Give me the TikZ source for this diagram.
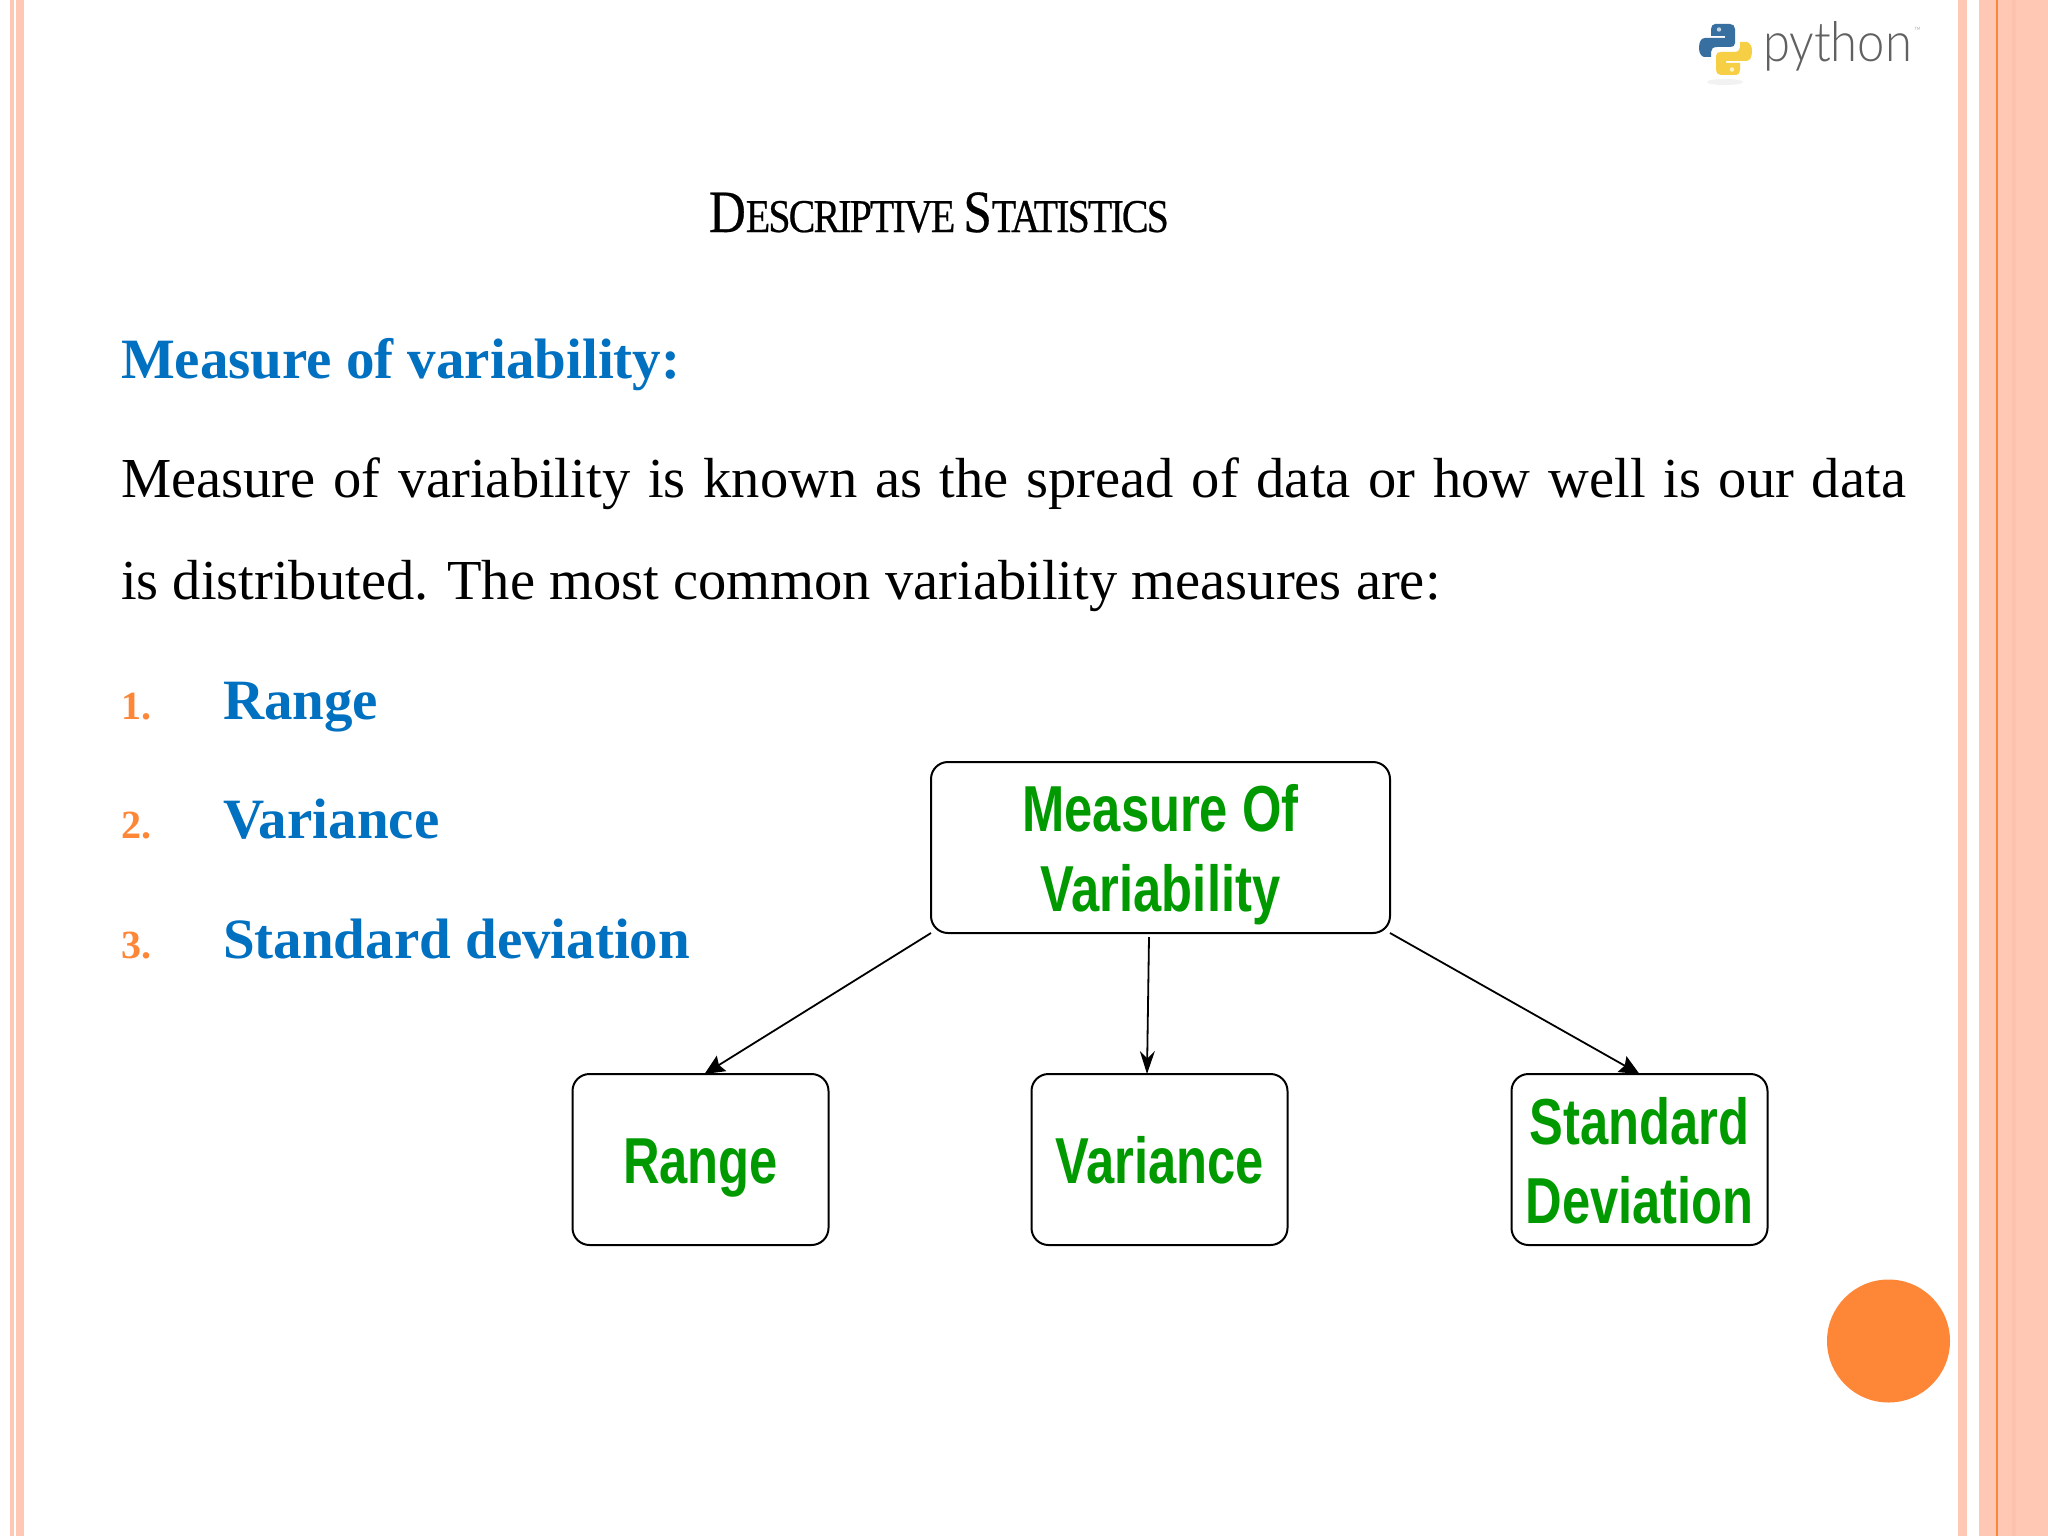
\documentclass[tikz,border=0pt]{standalone}
\usepackage{fontspec}
\usetikzlibrary{arrows.meta}
\setmainfont{Liberation Serif}
\newfontfamily\greenfam[FakeStretch=0.78]{Liberation Sans}
\newfontfamily\ttlfam[LetterSpace=-4,FakeStretch=0.85,FakeBold=0.5]{Liberation Serif}
\newfontfamily\logofam[FakeStretch=0.89]{Lato Light}
\definecolor{stripe}{HTML}{FFC8B5}
\definecolor{stripedark}{HTML}{FDC2AD}
\definecolor{accent}{HTML}{FE8637}
\definecolor{headblue}{HTML}{0070C0}
\definecolor{boxgreen}{HTML}{009A00}
\definecolor{pyblue}{HTML}{366FA0}
\definecolor{pyyellow}{HTML}{F7CF45}
\newcommand{\lab}[2]{\raisebox{#1}[0pt][0pt]{\begin{tabular}[b]{@{}c@{}}#2\end{tabular}}}
\newcommand{\pysnake}{(1715,24) -- (1730,24) .. controls (1733,24) and (1735,26) .. (1735,29) -- (1735,43) .. controls (1735,46) and (1733,47) .. (1730,47) -- (1717,47) .. controls (1713,47) and (1711,49) .. (1711,52) -- (1711,57) -- (1704,57) .. controls (1701,56) and (1699,53) .. (1699,48) .. controls (1699,42) and (1701,38) .. (1705,38) -- (1725,38) -- (1725,36) -- (1711,36) -- (1711,29) .. controls (1711,26) and (1713,24) .. (1715,24) -- cycle}
\tikzset{
  textnode/.style={anchor=base west,inner sep=0pt,outer sep=0pt},
  heading/.style={textnode,text=headblue,font=\fontsize{57}{57}\selectfont\bfseries},
  bodyline/.style={textnode,text=black,font=\fontsize{56.5}{56.5}\selectfont},
  numeral/.style={textnode,text=accent,font=\fontsize{40}{40}\selectfont\bfseries},
  flowbox/.style={draw=black,line width=2pt,rounded corners=17pt,fill=white,inner sep=0pt,outer sep=0pt,
    text=boxgreen,font=\greenfam\fontsize{65}{79.5}\selectfont\bfseries},
  smallbox/.style={flowbox,minimum width=256pt,minimum height=171pt},
  link/.style={draw=black,line width=1.8pt,-{Stealth[length=20pt,width=18pt,inset=3pt]}},
}
\begin{document}
\begin{tikzpicture}[x=1pt,y=-1pt]
\useasboundingbox (0,0) rectangle (2048,1536);
\fill[white] (0,0) rectangle (2048,1536);
% side stripes
\fill[stripe] (10,0) rectangle (13.5,1536);
\fill[stripe] (16,0) rectangle (24,1536);
\fill[stripe] (1958,0) rectangle (1967,1536);
\fill[stripe] (1979,0) rectangle (2048,1536);
\fill[stripedark] (2012,0) rectangle (2016,1536);
\fill[accent] (1996.2,0) rectangle (1997.8,1536);
% python logo
\fill[black!5] (1725,82) ellipse (18 and 3);
\fill[pyblue] \pysnake;
\fill[pyyellow,rotate around={180:(1725.5,49.5)}] \pysnake;
\fill[white!70!pyblue] (1719,29.5) circle (2.2);
\fill[white!70!pyyellow] (1732,69.5) circle (2.2);
\node[textnode,text=black!62,font=\logofam\fontsize{55}{55}\selectfont] (pylogo) at (1763,62) {python};
\node[textnode,text=black!40,font=\logofam\fontsize{10}{10}\selectfont] (pytm) at (1914,35) {™};
% title
\node[textnode,text=black] (title) at (709,232) {\ttlfam\fontsize{60}{60}\selectfont D\fontsize{47}{47}\selectfont ESCRIPTIVE \fontsize{60}{60}\selectfont S\fontsize{47}{47}\selectfont TATISTICS};
% text
\node[heading] (subhead) at (121,378) {Measure of variability:};
\node[bodyline] (line1) at (121,497) {\makebox[1785pt][s]{Measure of variability is known as the spread of data or how well is our data}};
\node[bodyline] (line2) at (121,599) {is distributed. The most common variability measures are:};
\node[numeral] (n1) at (121,719) {1.};
\node[numeral] (n2) at (121,838) {2.};
\node[numeral] (n3) at (121,958) {3.};
\node[heading] (item1) at (223,719) {Range};
\node[heading] (item2) at (223,838) {Variance};
\node[heading] (item3) at (223,958) {Standard deviation};
% diagram
\node[flowbox,minimum width=459pt,minimum height=171pt] (top) at (1160.5,847.5) {\lab{-63.5pt}{Measure Of\\Variability}};
\node[smallbox] (range) at (700.5,1159.5) {\lab{-24pt}{Range}};
\node[smallbox] (variance) at (1159.5,1159.5) {\lab{-24pt}{Variance}};
\node[smallbox] (stddev) at (1639.5,1159.5) {\lab{-64pt}{Standard\\Deviation}};
\draw[link] (top.south west) -- ([xshift=4pt]range.north);
\draw[link,-{Stealth[length=23pt,width=15pt]}] ([xshift=-11.5pt,yshift=-4pt]top.south) -- ([xshift=-12.5pt]variance.north);
\draw[link] (top.south east) -- (stddev.north);
% orange dot
\fill[accent] (1888.5,1341) circle (61.5);
\end{tikzpicture}
\end{document}
